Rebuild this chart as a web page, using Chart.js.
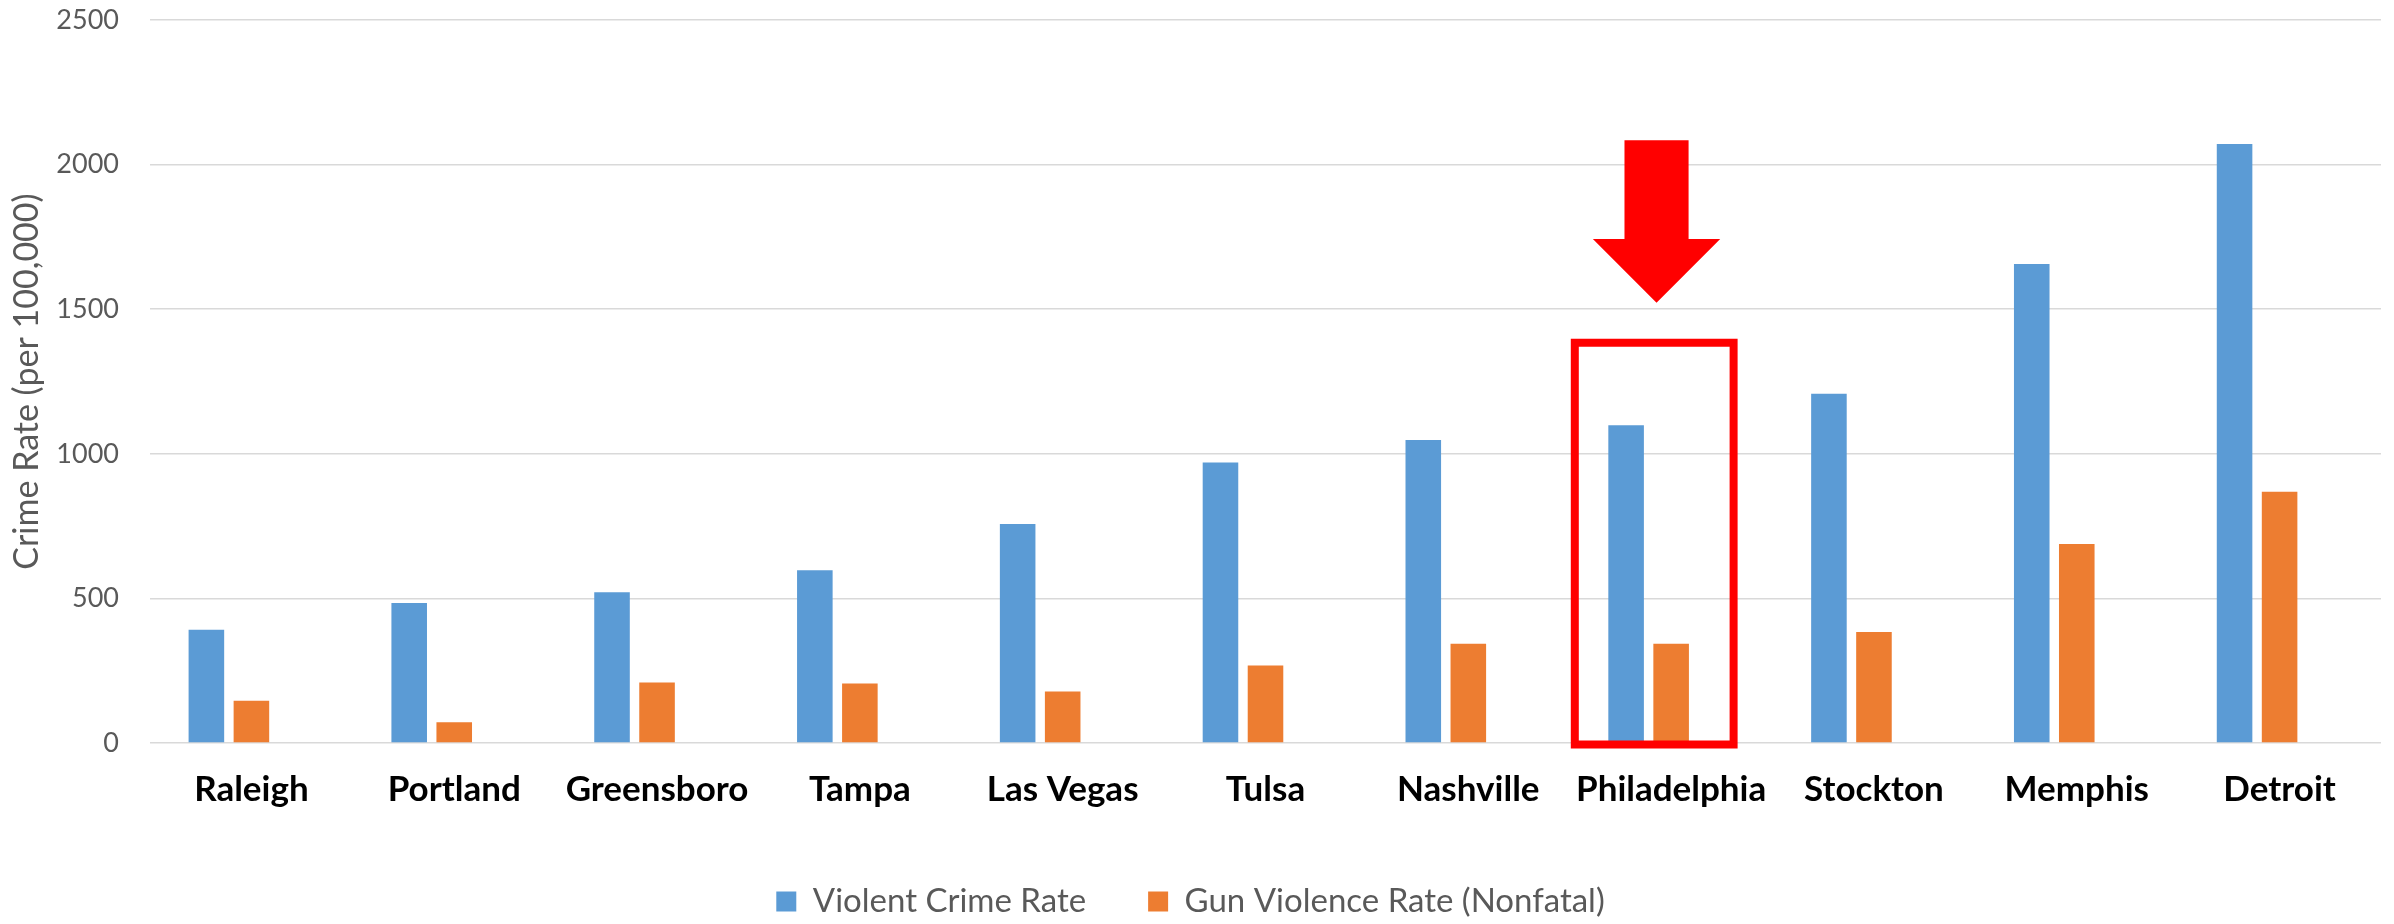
<!DOCTYPE html>
<html>
<head>
<meta charset="utf-8">
<script src="https://cdn.jsdelivr.net/npm/chart.js@4.4.1/dist/chart.umd.min.js"></script>
<style>
  html, body { margin: 0; padding: 0; background: #ffffff; }
  #wrap { width: 2394px; height: 924px; }
</style>
</head>
<body>
<div id="wrap"><canvas id="chart" width="2394" height="924"></canvas></div>
<script>
// Cities, ordered by violent crime rate
const cities = ['Raleigh', 'Portland', 'Greensboro', 'Tampa', 'Las Vegas', 'Tulsa',
                'Nashville', 'Philadelphia', 'Stockton', 'Memphis', 'Detroit'];

// Rates per 100,000 residents
const violentCrimeRate = [392, 484, 521, 597, 757, 970, 1048, 1099, 1208, 1656, 2071];
const gunViolenceRate  = [146, 72, 209, 206, 178, 268, 343, 343, 384, 688, 869];

// Third, empty series slot (keeps each pair left of the category centre)
const spareSeries = [null, null, null, null, null, null, null, null, null, null, null];

const seriesNames = ['Violent Crime Rate', 'Gun Violence Rate (Nonfatal)'];
const yTicks = [0, 500, 1000, 1500, 2000, 2500];
const yTitle = 'Crime Rate (per 100,000)';
const highlightCity = 'Philadelphia';

const FONT = 'Lato';
const GREY = '#595959';

// Red frame and arrow pointing at the highlighted city
const highlightPlugin = {
  id: 'highlight',
  afterDatasetsDraw(chart) {
    const xs = chart.scales.x, ys = chart.scales.y;
    const i = cities.indexOf(highlightCity);
    if (i < 0) return;
    const cw = xs.getPixelForValue(1) - xs.getPixelForValue(0);
    const cx = xs.getPixelForValue(i);
    const ctx = chart.ctx;
    ctx.save();
    // frame
    const left = cx - 0.475 * cw, right = cx + 0.308 * cw;
    const top = ys.getPixelForValue(1384), bottom = ys.getPixelForValue(0) + 1.5;
    ctx.strokeStyle = '#ff0000';
    ctx.lineWidth = 8;
    ctx.strokeRect(left, top, right - left, bottom - top);
    // arrow
    const ax = cx - 0.072 * cw;
    const shaftHalf = 0.158 * cw, headHalf = 0.314 * cw;
    const yTop = ys.getPixelForValue(2084), yBase = ys.getPixelForValue(1743), yTip = ys.getPixelForValue(1522);
    ctx.fillStyle = '#ff0000';
    ctx.beginPath();
    ctx.moveTo(ax - shaftHalf, yTop);
    ctx.lineTo(ax + shaftHalf, yTop);
    ctx.lineTo(ax + shaftHalf, yBase);
    ctx.lineTo(ax + headHalf, yBase);
    ctx.lineTo(ax, yTip);
    ctx.lineTo(ax - headHalf, yBase);
    ctx.lineTo(ax - shaftHalf, yBase);
    ctx.closePath();
    ctx.fill();
    ctx.restore();
  }
};

new Chart(document.getElementById('chart'), {
  type: 'bar',
  data: {
    labels: cities,
    datasets: [
      { label: seriesNames[0], data: violentCrimeRate, backgroundColor: '#5b9bd5', borderWidth: 0 },
      { label: seriesNames[1], data: gunViolenceRate, backgroundColor: '#ed7d31', borderWidth: 0 },
      { label: '', data: spareSeries, backgroundColor: 'rgba(0,0,0,0)', borderWidth: 0 }
    ]
  },
  options: {
    responsive: false,
    animation: false,
    devicePixelRatio: 1,
    datasets: { bar: { categoryPercentage: 0.666, barPercentage: 0.79 } },
    layout: { padding: { left: 0, right: 13, top: 20, bottom: -4 } },
    plugins: {
      tooltip: { enabled: false },
      legend: {
        position: 'bottom',
        labels: {
          filter: (item) => item.text !== '',
          font: { family: FONT, size: 33 },
          color: GREY,
          boxWidth: 20,
          boxHeight: 20,
          padding: 62
        }
      }
    },
    scales: {
      x: {
        grid: { display: false, drawTicks: false },
        border: { display: false },
        ticks: {
          autoSkip: false, maxRotation: 0,
          font: { family: FONT, size: 35, weight: 'bold' },
          color: '#000000',
          padding: 26
        },
        afterFit(scale) { scale.height = 80; }
      },
      y: {
        min: 0, max: 2500,
        afterBuildTicks(scale) { scale.ticks = yTicks.map(v => ({ value: v })); },
        grid: { color: '#d9d9d9', lineWidth: 1.5, drawTicks: false },
        border: { display: false },
        ticks: {
          font: { family: FONT, size: 27 },
          color: GREY,
          padding: 31,
          callback: (v) => String(v)
        },
        title: {
          display: true,
          text: yTitle,
          font: { family: FONT, size: 34 },
          color: GREY,
          padding: { top: 7, bottom: 0 }
        },
        afterFit(scale) {
          scale.width = 150;
          scale.paddingTop = 0;
          scale.paddingBottom = 0;
        }
      }
    }
  },
  plugins: [highlightPlugin]
});
</script>
</body>
</html>
